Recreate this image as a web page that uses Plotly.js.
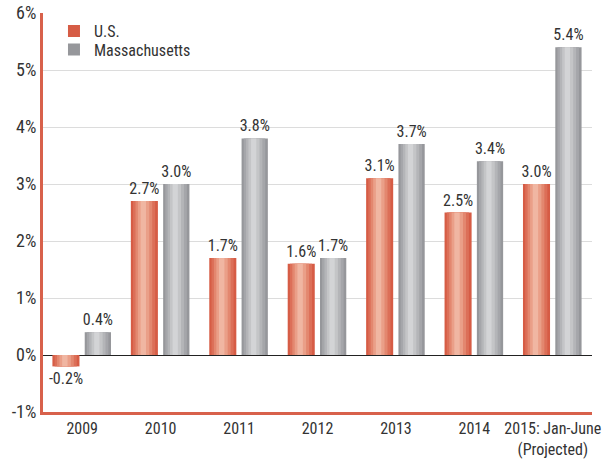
<!DOCTYPE html>
<html>
<head>
<meta charset="utf-8">
<script src="https://cdn.plot.ly/plotly-3.0.1.min.js"></script>
<style>html,body{margin:0;padding:0;background:#fff;}#chart{width:602px;height:465px;}</style>
</head>
<body>
<div id="chart"></div>
<script>
var categories = ['2009', '2010', '2011', '2012', '2013', '2014', '2015: Jan-June<br>(Projected)'];
var usValues = [-0.2, 2.7, 1.7, 1.6, 3.1, 2.5, 3.0];
var maValues = [0.4, 3.0, 3.8, 1.7, 3.7, 3.4, 5.4];
var seriesNames = ['U.S.', 'Massachusetts'];
var yTicks = [-1, 0, 1, 2, 3, 4, 5, 6];
var yTickText = ['-1%', '0%', '1%', '2%', '3%', '4%', '5%', '6%'];

var FONT = '"Roboto Condensed", "Liberation Sans Narrow", "Arial Narrow", "DejaVu Sans Condensed", Roboto, sans-serif';
// colour ramps for the cylinder shading: edge -> centre
var usRamp = ['#d65c45', '#dc6f58', '#e3876f', '#ea9f88', '#f0b6a2'];
var maRamp = ['#96979b', '#a5a6aa', '#b4b5b8', '#c4c5c7', '#d3d4d6'];

function labels(v) { return v.map(function (d) { return d.toFixed(1) + '%'; }); }

function layers(vals, name, ramp, offset, width, legendId) {
  var out = [];
  out.push({
    type: 'bar', x: categories, y: vals, name: name, legend: legendId,
    offset: offset, width: width,
    marker: { color: ramp[0], line: { width: 0 } },
    text: labels(vals), textposition: 'outside', cliponaxis: false,
    constraintext: 'none',
    textfont: { family: FONT, size: 16, color: '#333' },
    hoverinfo: 'skip'
  });
  var fr = [0.82, 0.62, 0.42, 0.2];
  for (var i = 0; i < fr.length; i++) {
    var w = width * fr[i];
    out.push({
      type: 'bar', x: categories, y: vals, showlegend: false,
      offset: offset + (width - w) / 2 - width * 0.05 * (1 - fr[i]), width: w,
      marker: { color: ramp[i + 1], line: { width: 0 } },
      hoverinfo: 'skip'
    });
  }
  return out;
}

var data = [].concat(
  layers(usValues, seriesNames[0], usRamp, -0.38, 0.345, 'legend'),
  layers(maValues, seriesNames[1], maRamp, 0.032, 0.335, 'legend2')
);

var legendBase = {
  x: 0.02, xanchor: 'left', yanchor: 'top',
  font: { family: FONT, size: 16, color: '#333' },
  bgcolor: 'rgba(0,0,0,0)', itemwidth: 30
};

var layout = {
  width: 602, height: 465,
  margin: { l: 43, r: 10, t: 13, b: 53 },
  paper_bgcolor: '#fff', plot_bgcolor: '#fff',
  barmode: 'overlay',
  showlegend: true,
  legend: Object.assign({}, legendBase, { y: 0.997 }),
  legend2: Object.assign({}, legendBase, { y: 0.951 }),
  font: { family: FONT, color: '#333' },
  xaxis: {
    type: 'category', showgrid: false, zeroline: false,
    showline: true, linecolor: '#d8614b', linewidth: 3,
    ticks: '', tickfont: { family: FONT, size: 16, color: '#333' },
    range: [-0.5, 6.5]
  },
  yaxis: {
    range: [-1, 6], tickvals: yTicks, ticktext: yTickText,
    showgrid: true, gridcolor: '#dcdcdc', gridwidth: 1,
    zeroline: true, zerolinecolor: '#222', zerolinewidth: 1,
    showline: true, linecolor: '#d8614b', linewidth: 3,
    ticks: '', tickfont: { family: FONT, size: 18, color: '#333' }
  }
};

Plotly.newPlot('chart', data, layout, { displayModeBar: false, staticPlot: true });
</script>
</body>
</html>
